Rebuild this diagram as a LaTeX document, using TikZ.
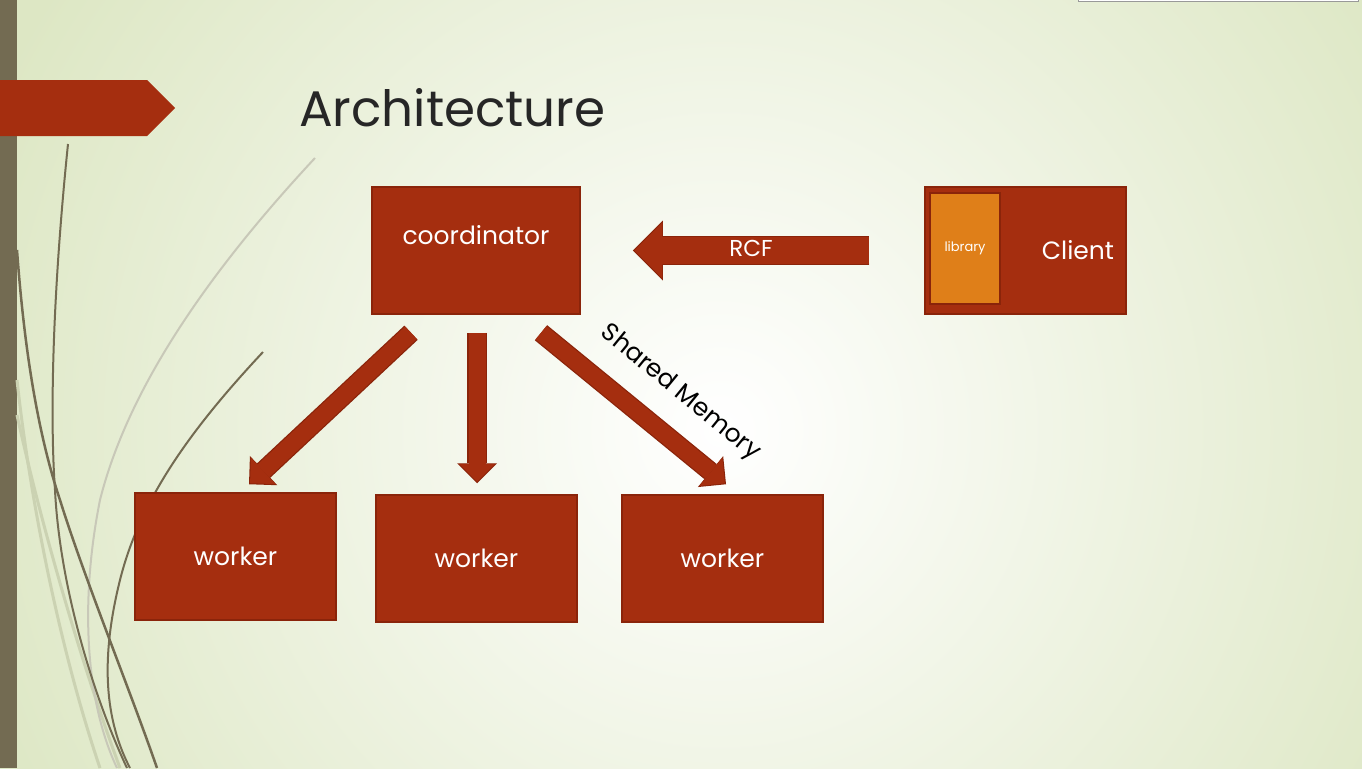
\documentclass[tikz,border=0pt]{standalone}
\usepackage{fontspec}
\setmainfont{Poppins}
\usetikzlibrary{arrows.meta, positioning}
\definecolor{cbg}{RGB}{221,231,196}
\definecolor{cbar}{RGB}{115,107,82}
\definecolor{cpale}{RGB}{203,210,178}
\definecolor{cgrey}{RGB}{200,200,184}
\definecolor{cred}{RGB}{165,46,15}
\definecolor{cedge}{RGB}{138,36,10}
\definecolor{corange}{RGB}{223,127,25}
\definecolor{ctitle}{RGB}{38,38,38}
\tikzstyle{block}=[draw=cedge,line width=1.5pt,fill=cred,text=white,rectangle,minimum width=201pt,minimum height=127pt,inner sep=0pt,font=\fontsize{25}{28}\selectfont]
\tikzstyle{lib}=[draw=cedge,line width=1.5pt,fill=corange,text=white,rectangle,minimum width=70pt,minimum height=111pt,inner sep=0pt,font=\fontsize{13}{16}\selectfont]
\tikzstyle{flow}=[draw=cedge,line width=19.5pt,-{Triangle[length=20pt,width=40pt,line width=0pt]},
  postaction={draw=cred,line width=17pt,shorten >=1.5pt,-{Triangle[length=18pt,width=36pt,line width=0pt]}}]
\tikzstyle{bigflow}=[draw=cedge,line width=29.5pt,-{Triangle[length=30pt,width=60pt,line width=0pt]},
  postaction={draw=cred,line width=27pt,shorten >=1.5pt,-{Triangle[length=28pt,width=56pt,line width=0pt]}}]

\begin{document}
\begin{tikzpicture}[x=1pt,y=-1pt,node distance=40pt]
    \useasboundingbox (0,0) rectangle (1362,768);
    % background
    \fill[cbg] (0,0) rectangle (1362,768);
    \shade[inner color=white,outer color=cbg] (720,430) circle[radius=800pt];
    \fill[cbar] (0,0) rectangle (17,768);
    \fill[cred] (0,80) -- (147,80) -- (175,108) -- (147,136) -- (0,136) -- cycle;
    \draw[gray!80,fill=white] (1078,-10) rectangle (1358,1.5);

    % grass
    \draw[cpale,line width=3pt] (17,380) .. controls (30,500) and (60,650) .. (100,768);
    \draw[cpale,line width=3pt] (17,415) .. controls (40,520) and (80,660) .. (120,768);
    \draw[cgrey,line width=2pt] (315,158) .. controls (220,260) and (130,380) .. (100,500)
        .. controls (80,600) and (85,700) .. (117,768);
    \draw[cbar,line width=2.5pt] (17,250) .. controls (25,360) and (40,440) .. (60,500)
        .. controls (85,580) and (130,690) .. (157,768);
    \draw[cbar,line width=2pt] (68,144) .. controls (52,300) and (50,420) .. (55,490)
        .. controls (60,590) and (95,700) .. (127,768);
    \draw[cbar,line width=2pt] (263,352) .. controls (190,430) and (140,500) .. (120,580)
        .. controls (100,660) and (105,720) .. (130,768);

    \node[anchor=base west,text=ctitle,inner sep=0pt,font=\fontsize{50}{60}\selectfont] (title) at (299,126) {Architecture};

    \node[block,minimum width=208pt,text height=17pt,text depth=30pt] (coord) at (476,250.5) {coordinator};
    \node[block,text width=177pt,align=right] (client) at (1025.5,250.5) {Client};
    \node[lib] (library) at (965,248.5) {library};

    \node[block] (w1) at (235.5,556.5) {worker};
    \node[block,right=38.5pt of w1,yshift=-2pt] (w2) {worker};
    \node[block,right=43.5pt of w2] (w3) {worker};

    \coordinate[left=55pt of client] (rcf0);
    \coordinate[right=52pt of coord] (rcf1);
    \draw[bigflow] (rcf0) -- node[text=white,yshift=2pt,font=\fontsize{23}{26}\selectfont] {RCF} (rcf1);

    \coordinate (s1) at ([shift={(-65,18)}]coord.south);
    \coordinate (s2) at ([shift={(1,18)}]coord.south);
    \coordinate (s3) at ([shift={(65,18)}]coord.south);
    \coordinate (e1) at ([shift={(13.5,-8)}]w1.north);
    \coordinate (e2) at ([shift={(0.5,-11)}]w2.north);
    \coordinate (e3) at ([shift={(3.5,-10)}]w3.north);
    \draw[flow] (s1) -- (e1);
    \draw[flow] (s2) -- (e2);
    \draw[flow] (s3) -- node[pos=0.61,sloped,above=16pt,text=black,font=\fontsize{25}{28}\selectfont] {Shared Memory} (e3);
\end{tikzpicture}
\end{document}
